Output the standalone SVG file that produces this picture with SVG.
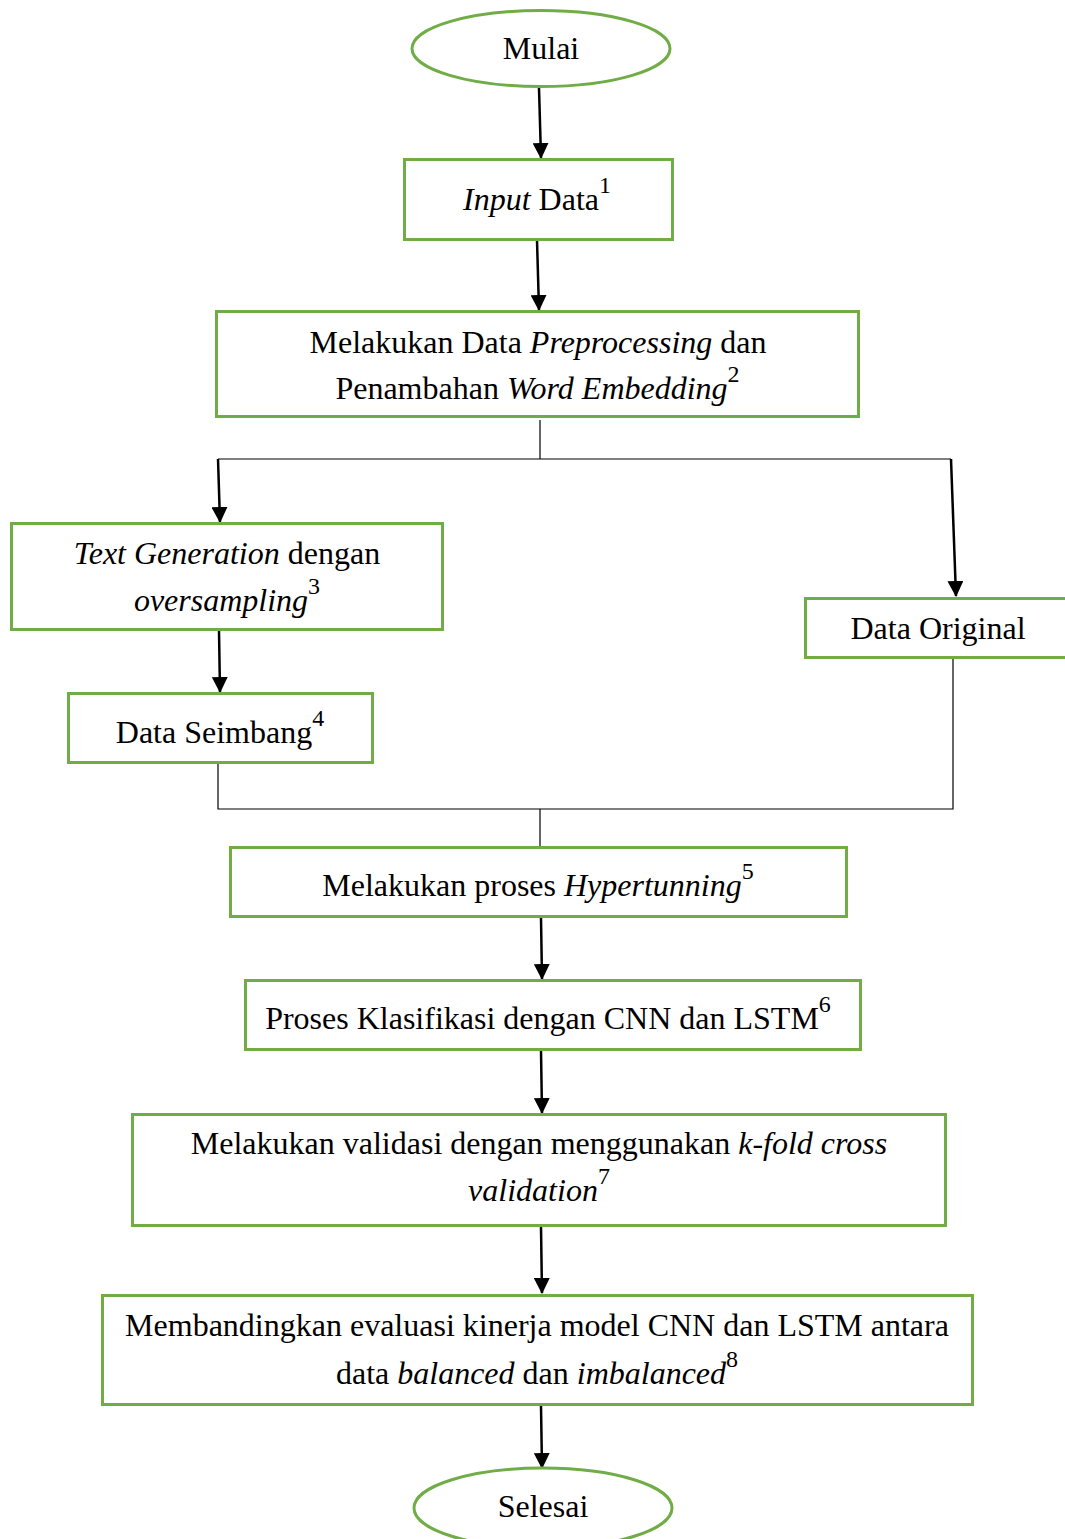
<svg xmlns="http://www.w3.org/2000/svg" width="1065" height="1539" viewBox="0 0 1065 1539">
<style>
.n{fill:#fff;stroke:#70AD47;stroke-width:3}
.t{font-family:"Liberation Serif","Times New Roman",serif;font-size:32px;fill:#000;text-anchor:middle}
.i{font-style:italic}
.s{font-size:24px}
.c{stroke:#000;stroke-width:2.5;fill:none}
.l{stroke:#000;stroke-width:1.2;fill:none}
</style>
<defs>
<marker id="ah" markerUnits="userSpaceOnUse" markerWidth="16" markerHeight="16" viewBox="0 0 16 16" refX="15" refY="8" orient="auto">
<path d="M0,0 L16,8 L0,16 Z" fill="#000"/>
</marker>
</defs>
<g id="connectors">
<line class="c" x1="539" y1="88" x2="541" y2="158" marker-end="url(#ah)"/>
<line class="c" x1="537" y1="240" x2="539" y2="310" marker-end="url(#ah)"/>
<path class="l" d="M540,420 V459 M218,459 H951"/>
<line class="c" x1="218" y1="459" x2="220" y2="522" marker-end="url(#ah)"/>
<line class="c" x1="951" y1="459" x2="956" y2="596" marker-end="url(#ah)"/>
<line class="c" x1="219" y1="631" x2="220" y2="692" marker-end="url(#ah)"/>
<path class="l" d="M218,764 V809 H953 V659 M540,809 V847"/>
<line class="c" x1="541" y1="918" x2="542" y2="979" marker-end="url(#ah)"/>
<line class="c" x1="541" y1="1051" x2="542" y2="1113" marker-end="url(#ah)"/>
<line class="c" x1="541" y1="1227" x2="542" y2="1293" marker-end="url(#ah)"/>
<line class="c" x1="541" y1="1406" x2="542" y2="1468" marker-end="url(#ah)"/>
</g>
<g id="mulai">
<ellipse class="n" cx="541" cy="48.5" rx="129" ry="38"/>
<text class="t" x="541" y="59">Mulai</text>
</g>
<g id="input">
<rect class="n" x="404.5" y="159.5" width="268" height="80"/>
<text class="t" x="537" y="210"><tspan class="i">Input</tspan> Data<tspan class="s" dy="-17">1</tspan></text>
</g>
<g id="preprocessing">
<rect class="n" x="216.5" y="311.5" width="642" height="105"/>
<text class="t" x="538" y="353">Melakukan Data <tspan class="i">Preprocessing</tspan> dan</text>
<text class="t" x="537.5" y="399">Penambahan <tspan class="i">Word Embedding</tspan><tspan class="s" dy="-17">2</tspan></text>
</g>
<g id="textgen">
<rect class="n" x="11.5" y="523.5" width="431" height="106"/>
<text class="t" x="227" y="564"><tspan class="i">Text Generation</tspan> dengan</text>
<text class="t" x="227" y="611"><tspan class="i">oversampling</tspan><tspan class="s" dy="-17">3</tspan></text>
</g>
<g id="seimbang">
<rect class="n" x="68.5" y="693.5" width="304" height="69"/>
<text class="t" x="220" y="743">Data Seimbang<tspan class="s" dy="-17">4</tspan></text>
</g>
<g id="original">
<rect class="n" x="805.5" y="598.5" width="262" height="59"/>
<text class="t" x="938" y="639">Data Original</text>
</g>
<g id="hypertunning">
<rect class="n" x="230.5" y="847.5" width="616" height="69"/>
<text class="t" x="538" y="896">Melakukan proses <tspan class="i">Hypertunning</tspan><tspan class="s" dy="-17">5</tspan></text>
</g>
<g id="klasifikasi">
<rect class="n" x="245.5" y="980.5" width="615" height="69"/>
<text class="t" x="548" y="1029">Proses Klasifikasi dengan CNN dan LSTM<tspan class="s" dy="-17">6</tspan></text>
</g>
<g id="validasi">
<rect class="n" x="132.5" y="1114.5" width="813" height="111"/>
<text class="t" x="539" y="1154">Melakukan validasi dengan menggunakan <tspan class="i">k-fold cross</tspan></text>
<text class="t" x="539" y="1201"><tspan class="i">validation</tspan><tspan class="s" dy="-17">7</tspan></text>
</g>
<g id="membandingkan">
<rect class="n" x="102.5" y="1295.5" width="870" height="109"/>
<text class="t" x="537" y="1336">Membandingkan evaluasi kinerja model CNN dan LSTM antara</text>
<text class="t" x="537" y="1384">data <tspan class="i">balanced</tspan> dan <tspan class="i">imbalanced</tspan><tspan class="s" dy="-17">8</tspan></text>
</g>
<g id="selesai">
<ellipse class="n" cx="543" cy="1508" rx="129" ry="40"/>
<text class="t" x="543" y="1517">Selesai</text>
</g>
</svg>
